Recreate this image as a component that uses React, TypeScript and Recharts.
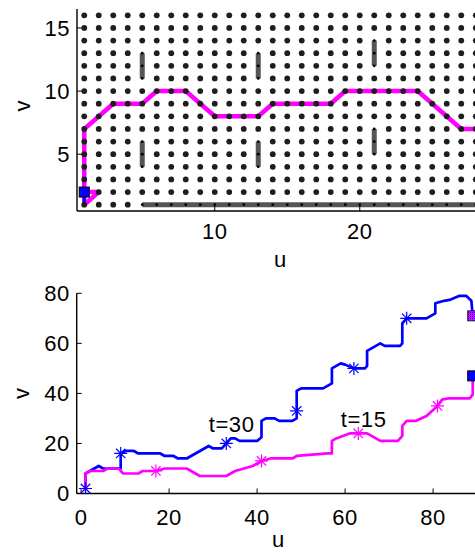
import React from "react";
import { ComposedChart, Line, Scatter, XAxis, YAxis } from "recharts";

const FONT = "'Liberation Sans', Arial, Helvetica, sans-serif";
const MAGENTA = "#ff00ff";
const BLUE = "#0000ff";

// ---- top panel: grid field ----
const gridU = [1, 2, 3, 4, 5, 6, 7, 8, 9, 10, 11, 12, 13, 14, 15, 16, 17, 18, 19, 20, 21, 22, 23, 24, 25, 26, 27, 28];
const gridV = [1, 2, 3, 4, 5, 6, 7, 8, 9, 10, 11, 12, 13, 14, 15, 16];

// vertical obstacles: column, from row, to row
const barU = [5, 5, 13, 13, 21, 21];
const barFrom = [11, 4, 11, 4, 12, 5];
const barTo = [13, 6, 13, 6, 14, 7];
// wall on the bottom row
const wallV = 1;
const wallFrom = 5;
const wallTo = 28;

const routeU = [1, 2, 1, 1, 3, 5, 6, 8, 10, 13, 14, 18, 19, 24, 27, 28];
const routeV = [2, 2, 1, 7, 9, 9, 10, 10, 8, 8, 9, 9, 10, 10, 7, 7];
const startU = [1, 1];
const startV = [2, 1];

// ---- bottom panel: two trajectories ----
const blueU = [1, 1, 4, 5, 9, 9, 10, 12, 13, 18, 19, 21, 22, 24, 29, 30, 32, 33, 34, 35, 36, 40, 41, 41, 42, 44, 45, 48, 49, 49, 50, 55, 57, 57, 59, 60, 62, 64.5, 65, 65, 66, 68, 69, 72.5, 73, 73, 74, 78.5, 80.5, 80.5, 82.5, 84, 86, 87.5, 88.7, 89];
const blueV = [2, 8, 11, 10, 10, 16, 17, 17, 16, 16, 15, 15, 14, 14, 19, 18, 18, 20, 22, 22, 21, 21, 22.5, 29, 30, 30, 29, 29, 30, 41, 42, 42, 44, 50, 52, 51.5, 50, 50, 51, 57, 58, 60, 59, 59, 60, 68, 70, 70, 72, 76, 77, 77.5, 79, 79, 77, 71];

const magU = [1, 1, 2, 5, 6, 8.5, 9.5, 13, 14, 17, 19, 24, 27, 33, 35, 37, 39, 41, 43, 48, 49, 56, 57, 57, 58, 61, 63, 65, 68, 72, 73, 73, 74, 76, 78.5, 81, 82, 83.5, 88.3, 89, 89];
const magV = [2, 8, 9, 9, 10, 10, 8, 8, 9, 9, 10, 10, 7, 7, 9, 10, 11, 13, 14, 14, 15, 16, 16, 21, 22, 24, 24, 24, 21, 21, 23, 27, 29, 29, 31, 35, 37.5, 38, 38, 39.5, 47];

const blueStarU = [1, 9, 33, 49, 62, 74];
const blueStarV = [2, 16, 20, 33, 50, 70];
const magStarU = [1, 17, 41, 63, 81];
const magStarV = [2, 9, 13, 24, 35];

const mixEndU = [89];
const mixEndV = [71];
const blueEndU = [89];
const blueEndV = [47];

const noteU = [29, 59];
const noteV = [27.5, 29.3];
const noteText = ["t=30", "t=15"];

const topXTicks = [10, 20];
const topYTicks = [5, 10, 15];
const botXTicks = [0, 20, 40, 60, 80];
const botYTicks = [0, 20, 40, 60, 80];

const zip = (us: number[], vs: (number | null)[]) => us.map((u, i) => ({ u, v: vs[i] }));

const onObstacle = (u: number, v: number) => {
  if (v === wallV && u >= wallFrom && u <= wallTo) return true;
  return barU.some((b, i) => b === u && v >= barFrom[i] && v <= barTo[i]);
};

const gridPts = gridV.flatMap((v) => gridU.map((u) => ({ u, v })));
const freePts = gridPts.filter((p) => !onObstacle(p.u, p.v));
const blockedPts = gridPts.filter((p) => onObstacle(p.u, p.v));

const obstacleLines = [
  ...barU.flatMap((u, i) => [
    { u, v: barFrom[i] },
    { u, v: barTo[i] },
    { u, v: null },
  ]),
  { u: wallFrom, v: wallV },
  { u: wallTo, v: wallV },
];

const tickStyle = { fontSize: 22, fill: "#000", fontFamily: FONT, letterSpacing: 0.5 };
const axisLine = { stroke: "#000", strokeWidth: 1.4 };
const tickLine = { stroke: "#000", strokeWidth: 1 };

const Dot = (props: any) => <circle cx={props.cx} cy={props.cy} r={2.9} fill="#1e1e1e" />;
const SmallDot = (props: any) => <circle cx={props.cx} cy={props.cy} r={1.4} fill="#000" />;

const BlueSquare = (props: any) => (
  <rect x={props.cx - 5} y={props.cy - 5} width={10} height={10} fill={BLUE} stroke="#000" strokeWidth={1} />
);

const MixSquare = (props: any) => (
  <g>
    <defs>
      <pattern id="mixfill" width="2" height="2" patternUnits="userSpaceOnUse">
        <rect width="2" height="2" fill={MAGENTA} />
        <rect width="1" height="1" fill={BLUE} />
        <rect x="1" y="1" width="1" height="1" fill="#8a2be2" />
      </pattern>
    </defs>
    <rect x={props.cx - 5} y={props.cy - 5} width={10} height={10} fill="url(#mixfill)" stroke="#202040" strokeWidth={1} />
  </g>
);

const makeStar = (color: string) => (props: any) => {
  const { cx, cy } = props;
  const r = 6.5;
  const d = r * 0.72;
  return (
    <g stroke={color} strokeWidth={1.2}>
      <line x1={cx - r} y1={cy} x2={cx + r} y2={cy} />
      <line x1={cx} y1={cy - r} x2={cx} y2={cy + r} />
      <line x1={cx - d} y1={cy - d} x2={cx + d} y2={cy + d} />
      <line x1={cx - d} y1={cy + d} x2={cx + d} y2={cy - d} />
    </g>
  );
};
const BlueStar = makeStar(BLUE);
const MagStar = makeStar(MAGENTA);

const Note = (props: any) => (
  <text x={props.cx} y={props.cy + 7} fontSize={22} fontFamily={FONT} fill="#000" letterSpacing={0.6}>
    {props.payload.text}
  </text>
);

const VLabel = (props: any) => {
  const vb = props.viewBox || { y: 0, height: 0 };
  const cy = vb.y + vb.height / 2 - (props.shift || 0);
  return (
    <text
      x={22}
      y={cy}
      transform={`rotate(-90, 22, ${cy})`}
      textAnchor="middle"
      dominantBaseline="central"
      fontSize={22}
      fontFamily={FONT}
      fill="#000"
    >
      v
    </text>
  );
};

const ULabel = (props: any) => {
  const vb = props.viewBox || { x: 0, y: 0, width: 0 };
  return (
    <text x={vb.x + vb.width / 2} y={vb.y + props.drop} textAnchor="middle" fontSize={22} fontFamily={FONT} fill="#000">
      u
    </text>
  );
};

function FieldPanel() {
  return (
    <ComposedChart width={540} height={280} margin={{ top: 9, right: 57, bottom: 39, left: 37 }}>
      <XAxis
        type="number"
        dataKey="u"
        domain={[0.5, 28.5]}
        allowDataOverflow
        ticks={topXTicks}
        tickSize={-5}
        tickMargin={17}
        height={30}
        tick={tickStyle}
        axisLine={axisLine}
        tickLine={tickLine}
        label={<ULabel drop={56} />}
      />
      <XAxis
        xAxisId="top"
        orientation="top"
        type="number"
        dataKey="u"
        domain={[0.5, 28.5]}
        allowDataOverflow
        ticks={topXTicks}
        tickSize={-5}
        height={0}
        tickFormatter={() => ""}
        axisLine={axisLine}
        tickLine={tickLine}
      />
      <YAxis
        type="number"
        dataKey="v"
        domain={[0.5, 16.5]}
        allowDataOverflow
        ticks={topYTicks}
        tickSize={-5}
        tickMargin={12}
        width={40}
        tick={tickStyle}
        axisLine={axisLine}
        tickLine={tickLine}
        label={<VLabel shift={4} />}
      />
      <Scatter data={freePts} dataKey="v" shape={Dot} isAnimationActive={false} />
      <Line
        data={obstacleLines}
        dataKey="v"
        type="linear"
        stroke="#555"
        strokeWidth={5}
        dot={false}
        activeDot={false}
        isAnimationActive={false}
      />
      <Scatter data={blockedPts} dataKey="v" shape={SmallDot} isAnimationActive={false} />
      <Line
        data={zip(routeU, routeV)}
        dataKey="v"
        type="linear"
        stroke={MAGENTA}
        strokeWidth={4.5}
        strokeLinejoin="round"
        dot={false}
        activeDot={false}
        isAnimationActive={false}
      />
      <Line
        data={zip(startU, startV)}
        dataKey="v"
        type="linear"
        stroke={BLUE}
        strokeWidth={3}
        dot={false}
        activeDot={false}
        isAnimationActive={false}
      />
      <Scatter data={zip([startU[0]], [startV[0]])} dataKey="v" shape={BlueSquare} isAnimationActive={false} />
    </ComposedChart>
  );
}

function PathPanel() {
  const notes = noteU.map((u, i) => ({ u, v: noteV[i], text: noteText[i] }));
  return (
    <ComposedChart width={540} height={283} margin={{ top: 23.3, right: 60.7, bottom: 29.5, left: 36.7 }}>
      <XAxis
        type="number"
        dataKey="u"
        domain={[-1, 90.5]}
        allowDataOverflow
        ticks={botXTicks}
        tickSize={-5}
        tickMargin={21}
        height={30}
        tick={tickStyle}
        axisLine={axisLine}
        tickLine={tickLine}
        label={<ULabel drop={53} />}
      />
      <XAxis
        xAxisId="top"
        orientation="top"
        type="number"
        dataKey="u"
        domain={[-1, 90.5]}
        allowDataOverflow
        ticks={botXTicks}
        tickSize={-5}
        height={0}
        tickFormatter={() => ""}
        axisLine={axisLine}
        tickLine={tickLine}
      />
      <YAxis
        type="number"
        dataKey="v"
        domain={[0, 80]}
        allowDataOverflow
        ticks={botYTicks}
        tickSize={-5}
        tickMargin={12}
        width={40}
        tick={tickStyle}
        axisLine={axisLine}
        tickLine={tickLine}
        label={<VLabel shift={0} />}
      />
      <Line
        data={zip(blueU, blueV)}
        dataKey="v"
        type="linear"
        stroke={BLUE}
        strokeWidth={2.7}
        strokeLinejoin="round"
        dot={false}
        activeDot={false}
        isAnimationActive={false}
      />
      <Line
        data={zip(magU, magV)}
        dataKey="v"
        type="linear"
        stroke={MAGENTA}
        strokeWidth={2.7}
        strokeLinejoin="round"
        dot={false}
        activeDot={false}
        isAnimationActive={false}
      />
      <Scatter data={zip(magStarU, magStarV)} dataKey="v" shape={MagStar} isAnimationActive={false} />
      <Scatter data={zip(blueStarU, blueStarV)} dataKey="v" shape={BlueStar} isAnimationActive={false} />
      <Scatter data={zip(mixEndU, mixEndV)} dataKey="v" shape={MixSquare} isAnimationActive={false} />
      <Scatter data={zip(blueEndU, blueEndV)} dataKey="v" shape={BlueSquare} isAnimationActive={false} />
      <Scatter data={notes} dataKey="v" shape={Note} isAnimationActive={false} />
    </ComposedChart>
  );
}

export default function App() {
  return (
    <div
      style={{
        position: "absolute",
        left: 0,
        top: 0,
        width: 475,
        height: 553,
        overflow: "hidden",
        background: "#fff",
      }}
    >
      <div style={{ position: "absolute", left: 0, top: 0 }}>
        <FieldPanel />
      </div>
      <div style={{ position: "absolute", left: 0, top: 270 }}>
        <PathPanel />
      </div>
    </div>
  );
}
